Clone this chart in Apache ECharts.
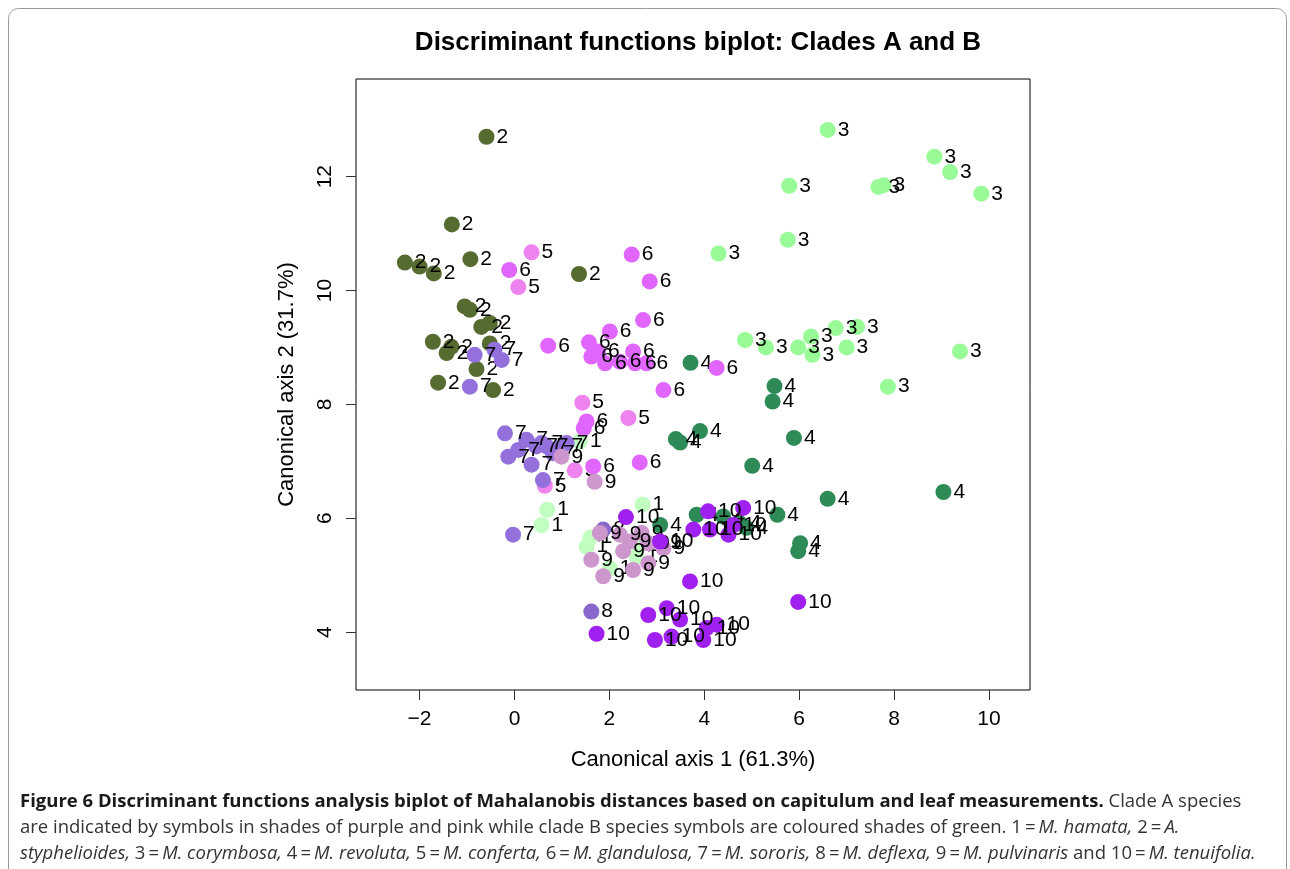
<!DOCTYPE html>
<html>
<head>
<meta charset="utf-8">
<title>Discriminant functions biplot</title>
<script src="https://cdn.jsdelivr.net/npm/echarts@6/dist/echarts.min.js"></script>
<style>
  html, body { margin: 0; padding: 0; background: #fff; }
  #chart { width: 1290px; height: 869px; }
</style>
</head>
<body>
<div id="chart"></div>
<script>
// species codes as printed next to each point
const speciesCodes = ['1', '2', '3', '4', '5', '6', '7', '8', '9', '10']

// [canonical axis 1, canonical axis 2]
const hamata = [[0.69, 6.15], [0.57, 5.88], [1.38, 7.35], [2.70, 6.24], [1.52, 5.50], [1.60, 5.66],
  [2.57, 5.33], [2.01, 5.12], [2.64, 5.53]]
const styphelioides = [[-0.59, 12.70], [-1.32, 11.16], [-2.31, 10.49], [-2.00, 10.42], [-1.70, 10.30],
  [-0.93, 10.55], [1.36, 10.29], [-1.05, 9.72], [-0.94, 9.66], [-0.70, 9.36], [-0.52, 9.43],
  [-1.72, 9.10], [-1.43, 8.90], [-1.33, 9.01], [-0.52, 9.07], [-0.80, 8.62], [-1.61, 8.38], [-0.45, 8.25]]
const corymbosa = [[6.60, 12.82], [8.85, 12.35], [9.18, 12.08], [9.84, 11.70], [5.79, 11.84],
  [7.67, 11.82], [7.78, 11.85], [5.76, 10.89], [4.30, 10.65], [4.86, 9.13], [5.30, 9.00],
  [5.98, 9.00], [6.25, 9.19], [6.28, 8.87], [6.77, 9.34], [7.22, 9.36], [7.00, 9.00],
  [9.39, 8.93], [7.87, 8.31]]
const revoluta = [[3.71, 8.73], [5.48, 8.32], [5.44, 8.05], [3.91, 7.53], [3.40, 7.39], [3.49, 7.33],
  [5.89, 7.41], [5.01, 6.92], [6.60, 6.34], [9.04, 6.46], [5.54, 6.06], [6.02, 5.56], [5.98, 5.42],
  [3.84, 6.06], [3.07, 5.88], [4.40, 6.03], [4.75, 5.91], [4.89, 5.83]]
const conferta = [[0.36, 10.67], [0.08, 10.06], [1.43, 8.03], [2.40, 7.76], [1.27, 6.84], [0.64, 6.57]]
const glandulosa = [[-0.11, 10.36], [2.47, 10.63], [2.85, 10.16], [0.71, 9.03], [1.57, 9.09],
  [2.01, 9.28], [2.71, 9.48], [1.62, 8.84], [1.76, 8.93], [1.91, 8.72], [2.22, 8.75], [2.50, 8.93],
  [2.54, 8.72], [2.78, 8.72], [3.14, 8.25], [4.26, 8.64], [1.52, 7.70], [1.46, 7.58], [2.64, 6.98],
  [1.66, 6.91]]
const sororis = [[-0.84, 8.87], [-0.42, 8.96], [-0.27, 8.78], [-0.94, 8.31], [-0.20, 7.49],
  [-0.13, 7.08], [0.08, 7.20], [0.25, 7.38], [0.36, 6.94], [0.46, 7.26], [0.57, 7.32], [0.68, 7.26],
  [0.81, 7.14], [0.99, 7.26], [1.10, 7.32], [0.60, 6.67], [-0.03, 5.71]]
const deflexa = [[1.62, 4.36], [1.87, 5.80]]
const pulvinaris = [[0.99, 7.08], [1.69, 6.64], [1.62, 5.27], [1.87, 4.98], [2.50, 5.09], [2.82, 5.21],
  [1.80, 5.74], [2.22, 5.71], [2.43, 5.59], [2.29, 5.42], [2.68, 5.74], [2.82, 5.56], [3.07, 5.56],
  [3.14, 5.47]]
const tenuifolia = [[2.35, 6.02], [3.07, 5.59], [3.77, 5.80], [4.08, 6.12], [4.12, 5.80], [4.51, 5.71],
  [4.82, 6.18], [4.61, 5.88], [3.70, 4.89], [5.98, 4.53], [1.73, 3.97], [2.82, 4.30], [3.21, 4.42],
  [3.49, 4.22], [2.96, 3.86], [3.31, 3.92], [3.98, 3.86], [4.05, 4.07], [4.26, 4.13]]

const xTicks = [-2, 0, 2, 4, 6, 8, 10]
const yTicks = [4, 6, 8, 10, 12]

const allSpecies = [hamata, styphelioides, corymbosa, revoluta, conferta, glandulosa,
  sororis, deflexa, pulvinaris, tenuifolia]
const colors = ['#c1ffc1', '#556b2f', '#98fb98', '#2e8b57', '#ee82ee', '#e066ff',
  '#9370db', '#8968cd', '#cd96cd', '#a020f0']

const font = 'Liberation Sans, Arial, Helvetica, sans-serif'
const capFont = '"Open Sans", "Noto Sans", sans-serif'

const chart = echarts.init(document.getElementById('chart'), null, { renderer: 'canvas' })

const series = allSpecies.map((pts, i) => ({
  name: speciesCodes[i],
  type: 'scatter',
  data: pts,
  symbol: 'circle',
  symbolSize: 16,
  itemStyle: { color: colors[i], opacity: 1 },
  label: {
    show: true,
    position: 'right',
    distance: 2,
    formatter: speciesCodes[i],
    color: '#000',
    fontSize: 21,
    fontFamily: font
  },
  emphasis: { disabled: true },
  z: 2 + i
}))

const axisTextStyle = { color: '#000', fontSize: 22, fontFamily: font }
const tickTextStyle = { color: '#000', fontSize: 21, fontFamily: font }

const option = {
  animation: false,
  title: {
    text: 'Discriminant functions biplot: Clades A and B',
    left: 693,
    top: 25,
    textAlign: 'center',
    textStyle: { fontSize: 26, fontWeight: 'bold', color: '#000', fontFamily: font }
  },
  grid: {
    left: 356,
    top: 79,
    width: 674,
    height: 611,
    show: true,
    borderColor: '#000',
    borderWidth: 1,
    backgroundColor: 'transparent'
  },
  xAxis: {
    type: 'value',
    min: -3.34,
    max: 10.865,
    name: 'Canonical axis 1 (61.3%)',
    nameLocation: 'middle',
    nameGap: 59,
    nameTextStyle: axisTextStyle,
    axisLine: { show: false, onZero: false },
    axisTick: { show: true, customValues: xTicks, length: 10, lineStyle: { color: '#333' } },
    axisLabel: {
      customValues: xTicks,
      margin: 19,
      formatter: v => (v < 0 ? '\u2212' + Math.abs(v) : String(v)),
      ...tickTextStyle
    },
    splitLine: { show: false }
  },
  yAxis: {
    type: 'value',
    min: 2.982,
    max: 13.715,
    name: 'Canonical axis 2 (31.7%)',
    nameLocation: 'middle',
    nameGap: 58,
    nameRotate: 90,
    nameTextStyle: axisTextStyle,
    axisLine: { show: false, onZero: false },
    axisTick: { show: true, customValues: yTicks, length: 10, lineStyle: { color: '#333' } },
    axisLabel: {
      customValues: yTicks,
      rotate: 90,
      margin: 20,
      ...tickTextStyle
    },
    splitLine: { show: false }
  },
  series: series,
  graphic: [
    {
      type: 'rect',
      shape: { x: 8.5, y: 8.5, width: 1278, height: 900, r: 10 },
      style: { fill: 'none', stroke: '#9a9a9a', lineWidth: 1 },
      silent: true,
      z: -1
    },
    {
      type: 'text',
      left: 20,
      top: 792,
      style: {
        text: '{b|Figure 6 Discriminant functions analysis biplot of Mahalanobis distances based on capitulum and leaf measurements.}{r| Clade A species}\n' +
          '{r|are indicated by symbols in shades of purple and pink while clade B species symbols are coloured shades of green. 1\u2009=\u2009}{i|M. hamata,}{r| 2\u2009=\u2009}{i|A.}\n' +
          '{i|styphelioides,}{r| 3\u2009=\u2009}{i|M. corymbosa,}{r| 4\u2009=\u2009}{i|M. revoluta,}{r| 5\u2009=\u2009}{i|M. conferta,}{r| 6\u2009=\u2009}{i|M. glandulosa,}{r| 7\u2009=\u2009}{i|M. sororis,}{r| 8\u2009=\u2009}{i|M. deflexa,}{r| 9\u2009=\u2009}{i|M. pulvinaris}{r| and 10\u2009=\u2009}{i|M. tenuifolia.}',
        rich: {
          b: { fontFamily: capFont, fontSize: 18.5, fontWeight: 'bold', fill: '#1a1a1a', lineHeight: 26 },
          r: { fontFamily: capFont, fontSize: 18.5, fill: '#333', lineHeight: 26 },
          i: { fontFamily: capFont, fontSize: 18.5, fontStyle: 'italic', fill: '#333', lineHeight: 26 }
        }
      },
      silent: true
    }
  ]
}

chart.setOption(option)
window.addEventListener('resize', () => chart.resize())
</script>
</body>
</html>
